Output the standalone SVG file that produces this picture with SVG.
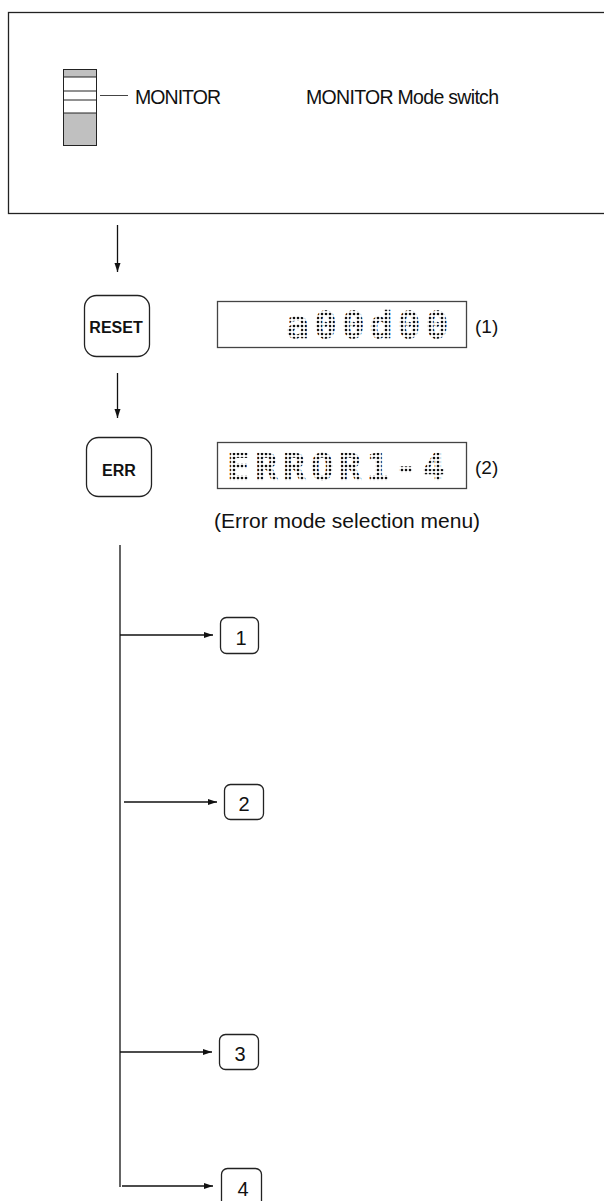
<svg xmlns="http://www.w3.org/2000/svg" width="604" height="1201" viewBox="0 0 604 1201">
<style>
.t{font-family:"Liberation Sans",Arial,Helvetica,sans-serif;fill:#111}
.key{font-family:"Liberation Sans",Arial,sans-serif;font-weight:bold;font-size:16px;fill:#111}
.ln{stroke:#111;stroke-width:1.3;fill:none}
.box{fill:#fff;stroke:#222;stroke-width:1.3}
.disp{fill:#fff;stroke:#444;stroke-width:1.3}
.dm{font-family:"DejaVu Sans Mono","Liberation Mono",monospace;font-weight:bold;font-size:38px;letter-spacing:5px;fill:url(#dots);stroke:url(#dots);stroke-width:0.5}
</style>
<defs>
<pattern id="dots" patternUnits="userSpaceOnUse" width="4" height="4">
<circle cx="2" cy="2" r="1.3" fill="#111"/>
</pattern>
<marker id="ah" markerWidth="10" markerHeight="8" refX="9" refY="4" orient="auto" markerUnits="userSpaceOnUse">
<path d="M0,1 L9,4 L0,7 Z" fill="#111"/>
</marker>
</defs>

<g id="mode-panel">
<rect x="8.5" y="12.5" width="610" height="201" fill="#fff" stroke="#222" stroke-width="1.3"/>
<g id="switch">
<rect x="63.5" y="69.5" width="33" height="76" fill="#c0c0c0" stroke="#222" stroke-width="1"/>
<rect x="63.5" y="77" width="33" height="36" fill="#fff" stroke="#222" stroke-width="1"/>
<line x1="63.5" y1="91" x2="96.5" y2="91" stroke="#222" stroke-width="1"/>
<line x1="63.5" y1="100" x2="96.5" y2="100" stroke="#222" stroke-width="1"/>
<line x1="100" y1="95.5" x2="128" y2="95.5" stroke="#444" stroke-width="1"/>
</g>
<text class="t" x="135" y="104" font-size="19.5" textLength="86">MONITOR</text>
<text class="t" x="306" y="104" font-size="19.5" textLength="193">MONITOR Mode switch</text>
</g>

<g id="connectors">
<line class="ln" x1="117.5" y1="225" x2="117.5" y2="272" marker-end="url(#ah)"/>
<line class="ln" x1="117.5" y1="373" x2="117.5" y2="418" marker-end="url(#ah)"/>
<line class="ln" x1="120" y1="545" x2="120" y2="1187"/>
<line class="ln" x1="120" y1="635" x2="213" y2="635" marker-end="url(#ah)"/>
<line class="ln" x1="124" y1="802" x2="217" y2="802" marker-end="url(#ah)"/>
<line class="ln" x1="120" y1="1052" x2="212" y2="1052" marker-end="url(#ah)"/>
<line class="ln" x1="122" y1="1186" x2="213" y2="1186" marker-end="url(#ah)"/>
</g>

<g id="reset-key">
<rect class="box" x="84.5" y="295.5" width="65" height="61" rx="12"/>
<text class="key" x="116" y="333" text-anchor="middle">RESET</text>
</g>

<g id="display1">
<rect class="disp" x="217.5" y="301.5" width="249" height="46"/>
<text class="dm" x="286" y="338">a00d00</text>
<text class="t" x="475" y="333" font-size="19">(1)</text>
</g>

<g id="err-key">
<rect class="box" x="86.5" y="437.5" width="65" height="59" rx="12"/>
<text class="key" x="119" y="476" text-anchor="middle">ERR</text>
</g>

<g id="display2">
<rect class="disp" x="217.5" y="442.5" width="249" height="46"/>
<text class="dm" x="227" y="480">ERROR1-4</text>
<text class="t" x="475" y="474" font-size="19">(2)</text>
<text class="t" x="214" y="528" font-size="21">(Error mode selection menu)</text>
</g>

<g id="step1">
<rect class="box" x="220.5" y="617.5" width="38" height="36" rx="6"/>
<text class="t" x="241" y="645" font-size="20" text-anchor="middle">1</text>
</g>
<g id="step2">
<rect class="box" x="224.5" y="784.5" width="39" height="35" rx="6"/>
<text class="t" x="244" y="811" font-size="20" text-anchor="middle">2</text>
</g>
<g id="step3">
<rect class="box" x="219.5" y="1034.5" width="39" height="35" rx="6"/>
<text class="t" x="240" y="1061" font-size="20" text-anchor="middle">3</text>
</g>
<g id="step4">
<rect class="box" x="221.5" y="1168.5" width="40" height="40" rx="6"/>
<text class="t" x="243" y="1196" font-size="20" text-anchor="middle">4</text>
</g>
</svg>
